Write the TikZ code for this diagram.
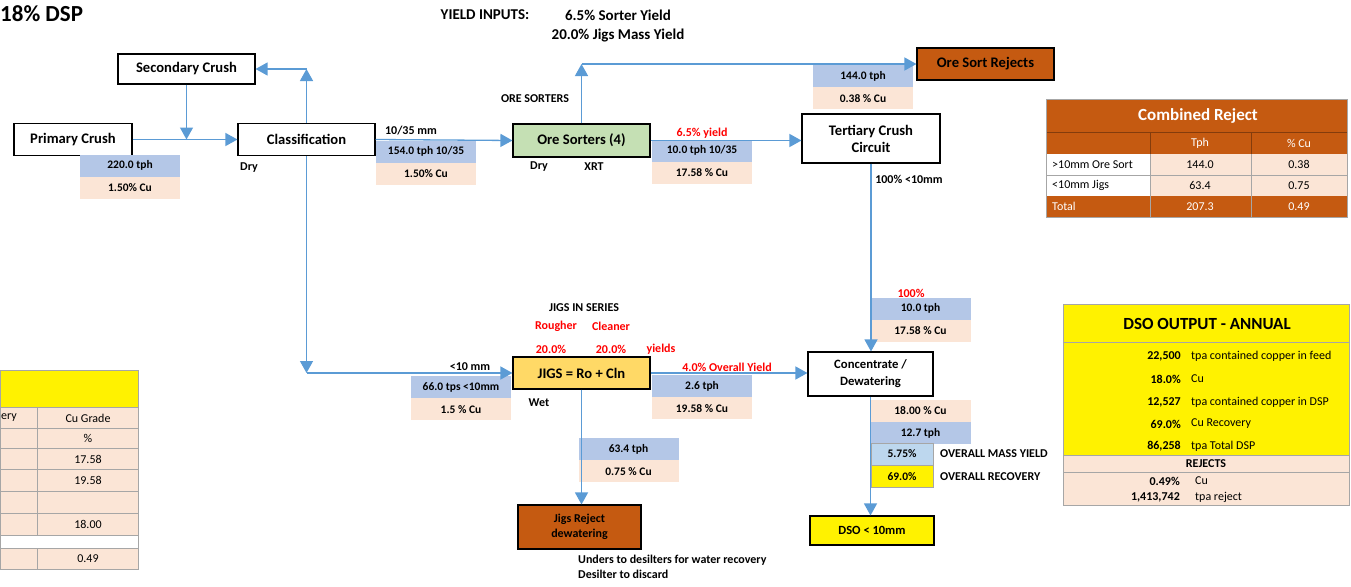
\documentclass[tikz,border=0pt]{standalone}
\usepackage{fontspec}
\setmainfont{Carlito}
\usetikzlibrary{arrows.meta,positioning}
\definecolor{flowblue}{HTML}{5B9BD5}
\definecolor{tphblue}{HTML}{B4C7E7}
\definecolor{cupeach}{HTML}{FBE5D6}
\definecolor{rejorange}{HTML}{C55A11}
\definecolor{sortgreen}{HTML}{C5E0B4}
\definecolor{jiggold}{HTML}{FFD966}
\definecolor{yieldblue}{HTML}{BDD7EE}
\definecolor{gridgrey}{HTML}{A6A6A6}
\definecolor{gridbrown}{HTML}{843C0C}
\tikzstyle{procbox} = [draw=black, line width=1.1pt, fill=white, rectangle,
    inner sep=0pt, align=center, font=\bfseries\fontsize{14.6}{17}\selectfont]
\tikzstyle{tph} = [fill=tphblue, rectangle, inner sep=0pt, minimum width=100pt,
    minimum height=22pt, font=\bfseries\fontsize{11.5}{13}\selectfont]
\tikzstyle{cu} = [tph, fill=cupeach]
\tikzstyle{flow} = [draw=flowblue, line width=1.3pt, -{Triangle[length=12pt,width=13pt]}]
\tikzstyle{lbl} = [inner sep=0pt, font=\bfseries\fontsize{12}{14}\selectfont]
\tikzstyle{redlbl} = [lbl, text=red]
\tikzstyle{tabtxt} = [inner sep=0pt, font=\fontsize{12}{14}\selectfont]

\begin{document}
\begin{tikzpicture}[x=1pt, y=-1pt]
\useasboundingbox (0,0) rectangle (1351,586);
% headings
\node[anchor=west, inner sep=0pt, font=\bfseries\fontsize{23}{26}\selectfont] (title) at (0,14) {18\% DSP};
\node[lbl, font=\bfseries\fontsize{15}{18}\selectfont] (yin) at (485,15) {YIELD INPUTS:};
\node[lbl, font=\bfseries\fontsize{15}{18}\selectfont] (ysort) at (618,15) {6.5\% Sorter Yield};
\node[lbl, font=\bfseries\fontsize{15}{18}\selectfont] (yjig) at (618,36) {20.0\% Jigs Mass Yield};

% process boxes
\node[procbox, minimum width=137pt, minimum height=30pt] (secondary) at (186.5,69) {Secondary Crush};
\node[procbox, minimum width=118pt, minimum height=32pt] (primary) at (73,139.5) {Primary Crush};
\node[procbox, minimum width=137pt, minimum height=32pt] (classif) at (306.5,139.5) {Classification};
\node[procbox, fill=sortgreen, minimum width=137pt, minimum height=33pt] (ores) at (581.5,140.5) {Ore Sorters (4)};
\node[procbox, minimum width=138pt, minimum height=49pt] (tertiary) at (871,138.5) {Tertiary Crush\\Circuit};
\node[procbox, fill=rejorange, minimum width=137pt, minimum height=32pt] (rejects) at (985.5,64) {Ore Sort Rejects};
\node[procbox, fill=jiggold, minimum width=137pt, minimum height=32pt] (jigs) at (581.5,373) {JIGS = Ro + Cln};
\node[procbox, minimum width=125pt, minimum height=44pt, font=\bfseries\fontsize{12.7}{17}\selectfont] (conc) at (870.5,374) {Concentrate /\\Dewatering};
\node[procbox, fill=rejorange, minimum width=123pt, minimum height=44pt, font=\bfseries\fontsize{12}{15}\selectfont] (jigrej) at (579.5,527) {Jigs Reject\\dewatering};
\node[procbox, fill=yellow, minimum width=124pt, minimum height=29pt, font=\bfseries\fontsize{12.5}{14}\selectfont] (dso) at (872,530.5) {DSO < 10mm};

% stream data
\node[tph] (ptph) at (130,165.5) {220.0 tph};
\node[cu, below=0pt of ptph] (pcu) {1.50\% Cu};
\node[tph] (ctph) at (426,151.5) {154.0 tph 10/35};
\node[cu, below=0pt of ctph] (ccu) {1.50\% Cu};
\node[tph] (otph) at (702,150.5) {10.0 tph 10/35};
\node[cu, below=0pt of otph] (ocu) {17.58 \% Cu};
\node[tph] (rtph) at (863,76) {144.0 tph};
\node[cu, below=0pt of rtph] (rcu) {0.38 \% Cu};
\node[tph] (ttph) at (920.5,308.5) {10.0 tph};
\node[cu, below=0pt of ttph] (tcu) {17.58 \% Cu};
\node[tph] (jitph) at (461,387) {66.0 tps <10mm};
\node[cu, below=0pt of jitph] (jicu) {1.5 \% Cu};
\node[tph] (jotph) at (702,386) {2.6 tph};
\node[cu, below=0pt of jotph] (jocu) {19.58 \% Cu};
\node[tph] (jrtph) at (628.5,449) {63.4 tph};
\node[cu, below=0pt of jrtph] (jrcu) {0.75 \% Cu};
\node[cu] (kcu) at (920.5,411) {18.00 \% Cu};
\node[tph, below=0pt of kcu] (ktph) {12.7 tph};
\node[tph, fill=yieldblue, draw=gridgrey, line width=0.8pt, minimum width=62pt] (myield) at (902,454) {5.75\%};
\node[tph, fill=yellow, draw=gridgrey, line width=0.8pt, minimum width=62pt, below=0pt of myield] (recov) {69.0\%};
\node[lbl, anchor=west] (mylbl) at (940,454) {OVERALL MASS YIELD};
\node[lbl, anchor=west] (rclbl) at (940,477) {OVERALL RECOVERY};

% flows
\coordinate (c1) at (classif.north |- secondary.east);
\coordinate (c2) at (ores.north |- rejects.west);
\coordinate (c3) at (classif.south |- jigs.west);
\draw[flow] (primary.east) -- (classif.west);
\draw[flow] (secondary.south) -- (secondary.south |- primary.east);
\draw[flow] (classif.north) -- (c1);
\draw[flow] (c1) -- (secondary.east);
\draw[flow] (classif.east) -- (ores.west);
\draw[flow] (ores.north) -- (c2);
\draw[flow] (c2) -- (rejects.west);
\draw[flow] (ores.east) -- (tertiary.west |- ores.east);
\draw[flow] (tertiary.south) -- (tertiary.south |- conc.north);
\draw[flow] (classif.south) -- (c3);
\draw[flow] (c3) -- (jigs.west);
\draw[flow] (jigs.east) -- (jigs.east -| conc.west);
\draw[flow] (jigs.south) -- (jigs.south |- jigrej.north);
\draw[flow] (conc.south) -- (conc.south |- dso.north);

% labels
\node[lbl] (l1035) at (411,131) {10/35 mm};
\node[redlbl] (lyield) at (702,133) {6.5\% yield};
\node[lbl] (l100) at (909,179) {100\% <10mm};
\node[redlbl] (l100r) at (911,293) {100\%};
\node[lbl] (l10) at (470,367) {<10 mm};
\node[redlbl] (loverall) at (727,367) {4.0\% Overall Yield};
\node[lbl] (lseries) at (584,308) {JIGS IN SERIES};
\node[redlbl] (lrough) at (556,326) {Rougher};
\node[redlbl] (lclean) at (611,326) {Cleaner};
\node[redlbl] (lr20) at (551,349) {20.0\%};
\node[redlbl] (lc20) at (611,349) {20.0\%};
\node[redlbl] (lyields) at (661,349) {yields};
\node[lbl] (lwet) at (539,403) {Wet};
\node[lbl] (ldry1) at (249,168) {Dry};
\node[lbl] (ldry2) at (539,167) {Dry};
\node[lbl] (lxrt) at (594,167) {XRT};
\node[lbl] (lsorters) at (535,99) {ORE SORTERS};
\node[lbl, anchor=west] (lunders) at (578,560) {Unders to desilters for water recovery};
\node[lbl, anchor=west] (ldesilt) at (578,574) {Desilter to discard};

% combined reject table
\fill[rejorange] (1046,99) rectangle (1347,154);
\fill[white] (1046,154) rectangle (1150,196);
\fill[cupeach] (1150,154) rectangle (1347,196);
\fill[rejorange] (1046,196) rectangle (1347,217);
\draw[gridbrown, line width=0.8pt] (1046,132) -- (1347,132) (1150,132) -- (1150,154) (1251,132) -- (1251,154);
\draw[gridgrey, line width=0.8pt] (1046,175) -- (1347,175) (1150,154) -- (1150,217) (1251,154) -- (1251,217);
\draw[gridgrey, line width=0.8pt] (1046,99) rectangle (1347,217);
\node[inner sep=0pt, text=white, font=\bfseries\fontsize{17}{20}\selectfont] (crhead) at (1198,116) {Combined Reject};
\node[tabtxt, text=white] (crtph) at (1200,143) {Tph};
\node[tabtxt, text=white] (crcu) at (1299,143) {\% Cu};
\node[tabtxt, anchor=west] (cr1a) at (1052,164.5) {>10mm Ore Sort};
\node[tabtxt] (cr1b) at (1200,164.5) {144.0};
\node[tabtxt] (cr1c) at (1299,164.5) {0.38};
\node[tabtxt, anchor=west] (cr2a) at (1052,185.5) {<10mm Jigs};
\node[tabtxt] (cr2b) at (1200,185.5) {63.4};
\node[tabtxt] (cr2c) at (1299,185.5) {0.75};
\node[tabtxt, anchor=west, text=white] (cr3a) at (1052,206.5) {Total};
\node[tabtxt, text=white] (cr3b) at (1200,206.5) {207.3};
\node[tabtxt, text=white] (cr3c) at (1299,206.5) {0.49};

% dso output table
\fill[yellow] (1063,304) rectangle (1349,455);
\fill[cupeach] (1063,455) rectangle (1349,505);
\draw[gridgrey, line width=0.8pt] (1063,342) -- (1349,342) (1063,455) -- (1349,455) (1063,472) -- (1349,472);
\draw[gridgrey, line width=0.8pt] (1063,304) rectangle (1349,505);
\node[inner sep=0pt, font=\bfseries\fontsize{17}{20}\selectfont] (dsohead) at (1207,324) {DSO OUTPUT - ANNUAL};
\foreach \val/\txt/\y [count=\i] in {22{,}500/tpa contained copper in feed/356, 18.0\%/Cu/379,
    12{,}527/tpa contained copper in DSP/402, 69.0\%/Cu Recovery/424, 86{,}258/tpa Total DSP/446} {
  \node[tabtxt, font=\bfseries\fontsize{12}{14}\selectfont, anchor=east] (dv\i) at (1181,\y) {\val};
  \node[tabtxt, anchor=west] (dt\i) at (1191,\y) {\txt};
}
\node[lbl] (dsorej) at (1206,464) {REJECTS};
\node[lbl, anchor=east] (drv1) at (1180,481) {0.49\%};
\node[tabtxt, anchor=west] (drt1) at (1195,481) {Cu};
\node[lbl, anchor=east] (drv2) at (1180,497) {1,413,742};
\node[tabtxt, anchor=west] (drt2) at (1195,497) {tpa reject};

% grade table (left)
\fill[yellow] (0,370) rectangle (138,407);
\fill[cupeach] (0,407) rectangle (138,535);
\fill[cupeach] (0,548) rectangle (138,569);
\draw[gridgrey, line width=0.8pt] (0,370) rectangle (138,569);
\foreach \y in {407,428,448,469,491,513,535,548}
  \draw[gridgrey, line width=0.8pt] (0,\y) -- (138,\y);
\draw[gridgrey, line width=0.8pt] (37,407) -- (37,535) (37,548) -- (37,569);
\node[tabtxt, anchor=east] (gh1) at (17,418) {ery};
\node[tabtxt] (gh2) at (88,418) {Cu Grade};
\node[tabtxt] (gv1) at (88,438) {\%};
\node[tabtxt] (gv2) at (88,459) {17.58};
\node[tabtxt] (gv3) at (88,480) {19.58};
\node[tabtxt] (gv4) at (88,524) {18.00};
\node[tabtxt] (gv5) at (88,559) {0.49};
\end{tikzpicture}
\end{document}
